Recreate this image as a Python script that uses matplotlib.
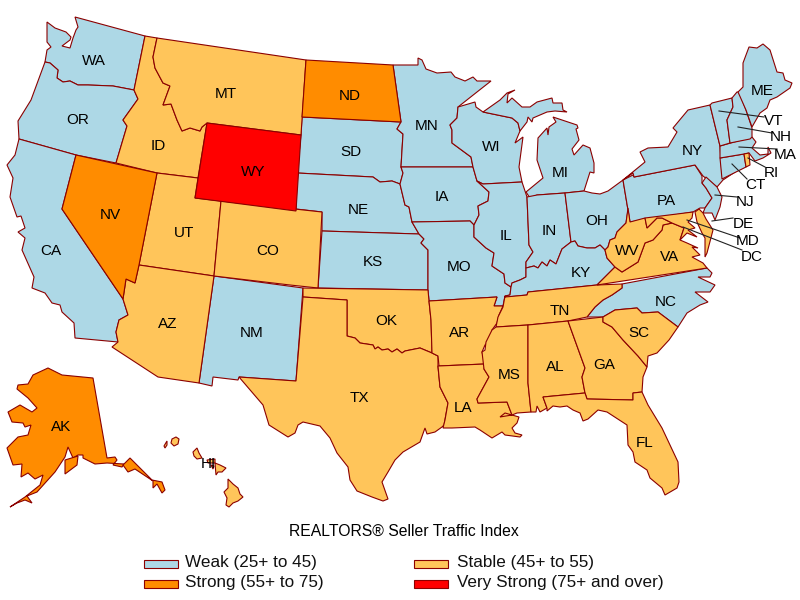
import matplotlib
matplotlib.use("Agg")
import matplotlib.pyplot as plt
from matplotlib.patches import Rectangle

plt.rcParams['font.family'] = ['Liberation Sans', 'DejaVu Sans']

# Outlines, in pixels
WA = [(47,22),(55,28),(66,32),(71,37),(70,40),(62,46),(70,48),(73,38),(76,30),(78,27),(75,17),(145,36),(134,90),(113,86),(88,85),(78,85),(70,81),(63,82),(57,78),(58,70),(50,63),(45,62),(47,50),(51,47),(47,42)]
OR = [(45,62),(50,63),(58,70),(57,78),(63,82),(70,81),(78,85),(88,85),(113,86),(134,90),(138,99),(123,120),(127,126),(116,163),(76,155),(19,139),(18,121),(31,100)]
CA = [(19,139),(76,155),(62,209),(123,299),(128,315),(119,320),(116,332),(118,342),(75,338),(74,323),(62,312),(60,305),(52,303),(45,293),(32,288),(34,277),(30,268),(22,250),(25,238),(18,232),(25,228),(21,216),(17,217),(10,197),(13,178),(7,165),(15,155)]
NV = [(76,155),(157,173),(139,265),(135,283),(126,279),(123,299),(62,209)]
ID = [(145,36),(157,38),(153,57),(155,68),(163,83),(170,86),(163,105),(171,104),(177,120),(182,131),(190,128),(200,131),(202,127),(207,123),(198,178),(157,173),(116,163),(127,126),(123,120),(138,99),(134,90)]
MT = [(157,38),(306,60),(301,135),(207,123),(202,127),(200,131),(190,128),(182,131),(177,120),(171,104),(163,105),(170,86),(163,83),(155,68),(153,57)]
WY = [(207,123),(301,135),(296,211),(195,198)]
UT = [(157,173),(198,178),(195,198),(221,201),(214,276),(139,265)]
AZ = [(139,265),(214,276),(199,383),(158,377),(112,347),(118,342),(116,332),(119,320),(128,315),(123,299),(126,279),(135,283)]
CO = [(221,201),(322,212),(318,288),(290,285),(214,276)]
NM = [(214,276),(303,288),(296,381),(239,377),(238,380),(213,377),(212,386),(199,383)]
ND = [(306,60),(393,65),(401,122),(302,117)]
SD = [(302,117),(401,122),(397,129),(403,134),(401,167),(403,173),(400,184),(392,181),(380,182),(373,177),(297,173),(301,135)]
NE = [(297,173),(373,177),(380,182),(392,181),(400,184),(405,205),(409,207),(412,222),(419,234),(322,231),(322,212),(296,209)]
KS = [(322,231),(419,234),(424,239),(421,243),(428,250),(428,290),(318,288)]
OK = [(303,288),(428,290),(429,301),(431,320),(432,353),(420,348),(405,351),(402,353),(397,349),(392,352),(388,349),(382,350),(378,347),(375,349),(373,345),(360,343),(355,338),(347,336),(347,300),(303,297)]
TX = [(303,297),(347,300),(347,336),(355,338),(360,343),(373,345),(375,349),(378,347),(382,350),(388,349),(392,352),(397,349),(402,353),(405,351),(420,348),(432,353),(438,356),(438,367),(440,387),(448,403),(444,425),(442,427),(435,432),(427,434),(425,428),(420,442),(403,452),(395,460),(388,472),(382,482),(388,499),(383,501),(372,497),(357,491),(350,480),(348,467),(337,453),(330,438),(320,426),(303,422),(298,425),(295,433),(288,437),(269,425),(263,405),(239,377),(296,381)]
MN = [(393,65),(418,65),(418,58),(422,60),(426,69),(437,73),(451,72),(455,77),(465,81),(473,77),(477,81),(491,81),(477,92),(458,107),(457,118),(450,125),(452,130),(452,143),(471,157),(473,167),(401,167),(403,134),(397,129),(401,122)]
IA = [(401,167),(473,167),(477,181),(489,192),(488,201),(478,206),(479,215),(474,225),(470,221),(412,222),(409,207),(405,205),(400,184),(403,173)]
MO = [(412,222),(470,221),(474,225),(474,237),(486,248),(494,253),(492,266),(504,274),(505,283),(511,287),(510,295),(505,296),(503,306),(494,306),(497,297),(429,301),(428,290),(428,250),(421,243),(424,239),(419,234)]
AR = [(429,301),(497,297),(494,306),(503,306),(499,315),(497,323),(492,330),(492,338),(485,345),(482,352),(485,364),(439,366),(438,356),(432,353),(431,320)]
LA = [(438,366),(485,364),(484,369),(489,377),(483,388),(477,399),(478,403),(507,402),(512,415),(500,417),(505,413),(512,415),(519,417),(517,423),(512,428),(515,433),(522,435),(520,437),(505,435),(502,432),(492,438),(480,430),(475,427),(452,428),(443,428),(445,420),(448,403),(440,387)]
WI = [(458,107),(475,102),(476,107),(483,112),(512,118),(518,123),(520,131),(515,143),(523,137),(519,167),(522,182),(483,184),(477,181),(473,167),(471,157),(452,143),(452,130),(450,125),(457,118)]
MI_UP = [(483,112),(500,100),(507,93),(515,90),(508,94),(507,103),(512,98),(522,107),(530,107),(537,102),(552,98),(553,103),(562,103),(563,110),(567,112),(555,111),(547,112),(533,118),(532,122),(528,117),(527,122),(520,131),(518,123),(512,118)]
MI_LP = [(553,117),(577,125),(578,128),(576,129),(579,140),(572,149),(574,155),(583,145),(590,148),(594,163),(594,173),(590,172),(584,191),(565,193),(537,195),(530,198),(526,192),(543,178),(537,160),(538,138),(547,128),(548,135),(549,127),(556,122)]
IL = [(483,184),(522,182),(527,197),(529,245),(533,252),(526,262),(526,277),(520,280),(512,283),(511,287),(505,283),(504,274),(492,266),(494,253),(486,248),(474,237),(474,225),(479,215),(478,206),(488,201),(489,192),(477,181)]
IN = [(527,197),(537,195),(565,193),(571,242),(562,249),(556,264),(550,260),(547,266),(542,262),(538,268),(534,266),(526,268),(526,262),(533,252),(529,245)]
OH = [(565,193),(584,191),(592,193),(600,194),(608,191),(623,180),(628,210),(626,223),(617,232),(615,238),(610,240),(608,247),(605,250),(600,245),(595,248),(587,248),(578,246),(575,241),(571,242)]
KY = [(511,287),(512,283),(520,280),(526,277),(526,268),(534,266),(538,268),(542,262),(547,266),(550,260),(556,264),(562,249),(571,242),(575,241),(578,246),(587,248),(595,248),(600,245),(605,250),(607,258),(615,267),(597,285),(528,292),(527,295),(507,297),(505,296),(510,295)]
TN = [(505,297),(527,295),(528,292),(597,285),(622,284),(622,288),(612,295),(603,300),(595,307),(587,317),(568,321),(528,325),(496,327),(498,317),(503,307),(505,296)]
MS = [(496,327),(528,325),(528,383),(531,412),(517,413),(512,415),(507,402),(478,403),(477,399),(483,388),(489,377),(484,369),(482,352),(485,350),(486,342),(492,330)]
AL = [(528,325),(568,321),(585,368),(582,377),(585,393),(543,397),(547,408),(540,412),(537,406),(536,412),(531,412),(528,383)]
GA = [(568,321),(603,317),(603,322),(612,327),(623,340),(638,356),(647,367),(643,377),(642,392),(633,393),(633,400),(587,399),(585,393),(582,377),(585,368)]
SC = [(603,317),(615,310),(637,308),(642,313),(658,312),(678,327),(669,340),(657,353),(648,356),(647,367),(638,356),(623,340),(612,327),(603,322)]
FL = [(543,397),(585,393),(587,399),(633,400),(633,393),(642,392),(648,405),(662,428),(678,462),(679,482),(677,488),(665,495),(662,488),(650,478),(647,470),(635,462),(633,452),(628,445),(627,425),(607,412),(598,410),(588,419),(583,421),(580,413),(573,410),(567,406),(560,407),(553,406),(547,411),(547,408)]
NC = [(587,317),(595,307),(603,300),(612,295),(622,288),(622,284),(707,268),(712,273),(710,277),(698,277),(715,285),(710,292),(695,292),(708,302),(700,305),(687,313),(678,327),(658,312),(642,313),(637,308),(615,310),(603,317)]
VA = [(597,285),(615,267),(622,272),(638,262),(645,243),(653,240),(662,230),(663,225),(672,223),(684,228),(680,240),(687,243),(698,248),(692,247),(700,255),(692,257),(703,263),(707,268)]
WV = [(628,208),(630,222),(645,218),(647,228),(657,218),(662,218),(672,223),(663,225),(662,230),(653,240),(645,243),(638,262),(622,272),(615,267),(607,258),(605,250),(608,247),(610,240),(615,238),(617,232),(626,223)]
MD = [(645,218),(693,212),(692,218),(688,222),(695,228),(688,230),(697,237),(687,233),(682,238),(680,240),(684,228),(672,223),(662,218),(657,218),(647,228)]
DE_SHORE = [(695,212),(699,209),(703,213),(706,219),(713,230),(707,253),(705,257),(705,238),(702,233),(697,222)]
PA = [(623,180),(633,175),(634,177),(695,165),(702,176),(702,183),(706,188),(712,198),(705,208),(700,208),(693,212),(630,222)]
NY = [(623,180),(633,173),(634,177),(695,165),(703,176),(717,187),(723,180),(744,166),(722,175),(720,146),(710,105),(688,110),(673,128),(677,132),(668,147),(648,148),(640,152),(645,162)]
NJ = [(702,183),(706,177),(717,187),(722,197),(720,207),(715,220),(712,213),(703,213),(705,208),(712,198),(706,188)]
CT = [(720,158),(744,154),(746,167),(722,179)]
RI = [(744,154),(749,153),(750,165),(746,167)]
MA = [(720,146),(752,137),(756,142),(752,148),(760,155),(768,154),(768,147),(771,153),(763,158),(755,161),(749,153),(744,154),(720,158)]
VT = [(712,103),(732,98),(733,107),(727,120),(730,143),(720,146),(710,105)]
NH = [(732,98),(737,92),(739,92),(746,110),(752,128),(752,137),(750,139),(730,143),(727,120),(733,107)]
ME = [(738,92),(743,87),(743,63),(749,47),(757,48),(763,44),(770,50),(777,72),(783,73),(785,80),(792,83),(790,88),(777,97),(770,100),(767,108),(760,113),(752,127),(746,110)]
AK = [(93,378),(107,458),(115,457),(117,460),(113,465),(122,467),(124,464),(107,463),(95,464),(83,458),(83,455),(78,455),(73,458),(68,447),(65,457),(55,472),(37,492),(27,496),(32,503),(25,500),(17,503),(10,507),(25,497),(40,485),(43,475),(35,479),(28,473),(21,477),(22,464),(13,465),(7,448),(18,437),(28,435),(31,425),(25,427),(23,423),(12,422),(8,412),(20,405),(32,412),(37,408),(28,398),(17,389),(18,385),(28,384),(33,375),(48,368),(62,375)]
AK_KODIAK = [(65,460),(78,456),(77,465),(65,474)]
AK_PANHANDLE = [(123,465),(130,458),(152,480),(162,482),(165,490),(162,493),(157,484),(153,488),(153,481),(135,469),(128,472)]
HI_KAUAI = [(172,439),(176,437),(179,439),(178,444),(174,446),(171,443)]
HI_NIIHAU = [(164,446),(167,441),(167,445),(165,448)]
HI_OAHU = [(193,452),(197,448),(199,453),(202,458),(197,459),(194,456)]
HI_MOLOKAI = [(207,460),(215,459),(215,463),(208,463)]
HI_LANAI = [(211,465),(214,466),(213,469)]
HI_MAUI = [(215,463),(220,465),(226,468),(222,472),(218,472),(216,475)]
HI_BIG = [(228,479),(233,484),(238,488),(240,494),(243,497),(238,501),(233,503),(229,507),(226,505),(227,498),(224,492),(228,488)]

# Index class of each state
weak = [WA, OR, CA, NM, SD, NE, KS, MN, IA, MO, WI, MI_UP, MI_LP, IL, IN, OH, KY, NC, PA, NY, NJ, CT, MA, VT, NH, ME]
stable = [ID, MT, UT, AZ, CO, OK, TX, AR, LA, TN, MS, AL, GA, SC, FL, VA, WV, MD, DE_SHORE, RI,
          HI_KAUAI, HI_NIIHAU, HI_OAHU, HI_MOLOKAI, HI_LANAI, HI_MAUI, HI_BIG]
strong = [NV, ND, AK, AK_KODIAK, AK_PANHANDLE]
very_strong = [WY]

class_names = ['Weak (25+ to 45)', 'Stable (45+ to 55)', 'Strong (55+ to 75)', 'Very Strong (75+ and over)']
class_colors = ['#add8e6', '#ffc55a', '#ff8c00', '#ff0000']
title = 'REALTORS® Seller Traffic Index'

labels = ['WA', 'OR', 'CA', 'NV', 'ID', 'MT', 'WY', 'UT', 'CO', 'AZ', 'NM', 'ND', 'SD', 'NE', 'KS', 'OK', 'TX',
          'MN', 'IA', 'MO', 'AR', 'LA', 'WI', 'IL', 'MI', 'IN', 'OH', 'KY', 'TN', 'MS', 'AL', 'GA', 'SC', 'FL',
          'NC', 'VA', 'WV', 'PA', 'NY', 'ME', 'AK', 'HI', 'VT', 'NH', 'MA', 'RI', 'CT', 'NJ', 'DE', 'MD', 'DC']
label_x = [94, 78, 51, 110, 158, 226, 253, 184, 268, 168, 252, 350, 351, 358, 373, 386, 359,
           427, 442, 459, 460, 463, 491, 506, 560, 549, 597, 581, 560, 509, 555, 604, 639, 645,
           666, 669, 627, 666, 692, 762, 61, 208, 774, 781, 785, 771, 755, 745, 743, 748, 752]
label_y = [61, 120, 251, 215, 146, 94, 172, 233, 251, 324, 333, 96, 152, 210, 262, 321, 398,
           126, 197, 267, 333, 408, 147, 236, 173, 231, 221, 273, 311, 375, 367, 365, 333, 443,
           302, 257, 251, 201, 151, 91, 427, 464, 121, 137, 155, 173, 185, 202, 224, 241, 257]

# Leader lines for the small states: x0, y0, x1, y1
leaders = [(719, 111, 764, 117), (738, 127, 772, 133), (739, 147, 777, 149), (748, 158, 765, 167),
           (732, 164, 747, 179), (715, 195, 737, 197), (712, 221, 733, 218), (687, 220, 740, 238),
           (683, 227, 742, 250)]

fig = plt.figure(figsize=(8, 6), dpi=100)
ax = fig.add_axes([0, 0, 1, 1])
ax.set_xlim(0, 800)
ax.set_ylim(600, 0)
ax.axis('off')

for group, color in zip([weak, stable, strong, very_strong], class_colors[:1] + class_colors[1:]):
    for shape in group:
        ax.fill([p[0] for p in shape], [p[1] for p in shape], facecolor=color,
                edgecolor='#8b0000', linewidth=0.8, joinstyle='miter')

for x0, y0, x1, y1 in leaders:
    ax.plot([x0, x1], [y0, y1], color='#222222', linewidth=0.8)

for name, x, y in zip(labels, label_x, label_y):
    ax.text(x, y, name, fontsize=11, ha='center', va='center', color='black')

# Title and legend
ax.text(404, 531, title, fontsize=11.3, ha='center', va='center', color='black')
swatch_x = [144, 414, 144, 414]
swatch_y = [560, 560, 580, 580]
text_x = [185, 457, 185, 457]
for name, color, x, y, tx in zip(class_names, class_colors, swatch_x, swatch_y, text_x):
    ax.add_patch(Rectangle((x, y), 34, 8, facecolor=color, edgecolor='#8b0000', linewidth=0.8))
    ax.text(tx, y + 2.5, name, fontsize=12.3, ha='left', va='center', color='#111111')

fig.savefig('out.png', dpi=100)
